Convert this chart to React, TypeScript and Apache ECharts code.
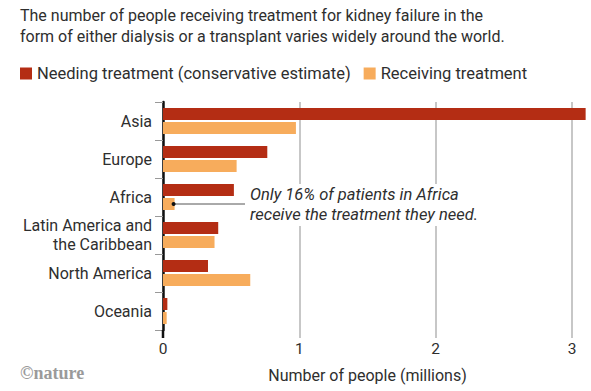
import React, { useEffect, useRef } from "react";
import * as echarts from "echarts";

const regions = ["Asia", "Europe", "Africa", "Latin America and\nthe Caribbean", "North America", "Oceania"];
const needing = [3.1, 0.765, 0.52, 0.405, 0.33, 0.032];
const receiving = [0.975, 0.54, 0.085, 0.378, 0.64, 0.027];
const xTicks = [0, 1, 2, 3];

const RED = "#b42d14";
const ORANGE = "#f7ac5c";
const TEXT = "#2e2e2e";
const FONT = "Roboto";

export default function App() {
  const ref = useRef<HTMLDivElement>(null);
  useEffect(() => {
    const chart = echarts.init(ref.current!, null, { renderer: "svg" });
    chart.setOption({
      animation: false,
      textStyle: { fontFamily: FONT },
      title: {
        text: "The number of people receiving treatment for kidney failure in the\nform of either dialysis or a transplant varies widely around the world.",
        left: 15,
        top: 0,
        textStyle: { fontFamily: FONT, fontSize: 16, fontWeight: "normal", color: TEXT, lineHeight: 21 },
      },
      legend: {
        left: 15,
        top: 60,
        icon: "rect",
        itemWidth: 12,
        itemHeight: 12,
        itemGap: 13,
        textStyle: { fontFamily: FONT, fontSize: 16.5, color: TEXT },
        data: ["Needing treatment (conservative estimate)", "Receiving treatment"],
      },
      grid: { left: 163, right: 19, top: 102, bottom: 61, containLabel: false },
      xAxis: {
        type: "value",
        min: xTicks[0],
        max: xTicks[xTicks.length - 1],
        interval: 1,
        name: "Number of people (millions)",
        nameLocation: "middle",
        nameGap: 37,
        nameTextStyle: { fontFamily: FONT, fontSize: 16, color: TEXT },
        axisLine: { show: false },
        axisTick: { show: true, length: 8, lineStyle: { color: "#b5b5b5", width: 1.5 } },
        axisLabel: { fontFamily: FONT, fontSize: 15.5, color: TEXT, margin: 11 },
        splitLine: { show: true, lineStyle: { color: "#b5b5b5", width: 1.5 } },
      },
      yAxis: {
        type: "category",
        inverse: true,
        data: regions,
        axisLine: { show: true, lineStyle: { color: "#111", width: 2.5 } },
        axisTick: { show: true, length: 8, lineStyle: { color: "#999", width: 1 } },
        axisLabel: { fontFamily: FONT, fontSize: 16, color: TEXT, margin: 11, lineHeight: 19 },
      },
      series: [
        {
          name: "Needing treatment (conservative estimate)",
          type: "bar",
          data: needing,
          barWidth: 12,
          barGap: "17%",
          clip: false,
          itemStyle: { color: RED },
          z: 3,
        },
        {
          name: "Receiving treatment",
          type: "bar",
          data: receiving,
          barWidth: 12,
          barGap: "17%",
          clip: false,
          itemStyle: { color: ORANGE },
          z: 3,
        },
      ],
    });

    const africaIdx = 2;
    const pt = chart.convertToPixel({ xAxisIndex: 0, yAxisIndex: 0 }, [receiving[africaIdx], africaIdx]) as number[];
    const dotX = pt[0] - 1;
    const dotY = pt[1] + 7;
    chart.setOption({
      graphic: [
        { type: "line", shape: { x1: 163, y1: 330, x2: 163, y2: 338 }, style: { stroke: "#111", lineWidth: 2.5 }, z: 10 },
        { type: "rect", shape: { x: 246, y: 184, width: 250, height: 42 }, style: { fill: "#fff" }, z: 5 },
        { type: "line", shape: { x1: dotX, y1: dotY, x2: 245, y2: dotY }, style: { stroke: "#555", lineWidth: 1 }, z: 10 },
        { type: "circle", shape: { cx: dotX, cy: dotY, r: 2 }, style: { fill: "#111" }, z: 11 },
        {
          type: "text",
          x: 250,
          y: 185,
          z: 11,
          style: {
            text: "Only 16% of patients in Africa\nreceive the treatment they need.",
            font: "italic 16.5px Roboto",
            fill: TEXT,
            lineHeight: 19.5,
          },
        },
        {
          type: "text",
          x: 20,
          y: 364,
          z: 11,
          style: { text: "©nature", font: "bold 18px 'Liberation Serif', serif", fill: "#9a9a9a" },
        },
      ],
    });
    return () => chart.dispose();
  }, []);
  return <div ref={ref} style={{ width: 591, height: 391, position: "absolute", left: 0, top: 0 }} />;
}
